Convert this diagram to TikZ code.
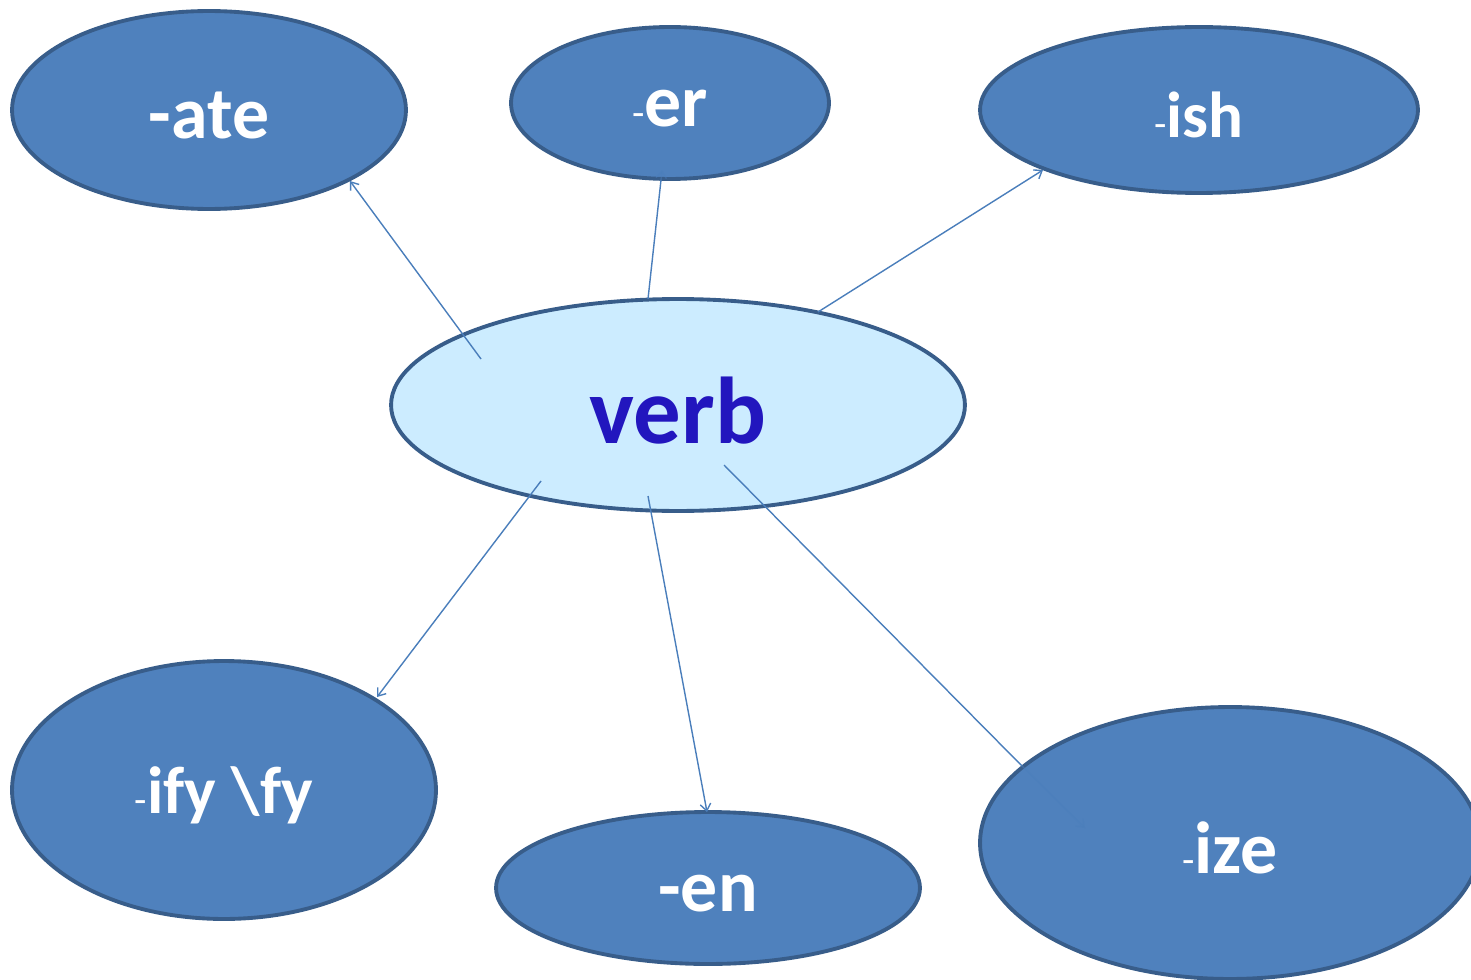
\documentclass[tikz,border=0pt]{standalone}
\usepackage{fontspec}
\setmainfont{Carlito}
\usetikzlibrary{shapes.geometric,arrows.meta}
\definecolor{fillblue}{HTML}{4F81BD}
\definecolor{edgeblue}{HTML}{385D8A}
\definecolor{verbfill}{HTML}{CCECFF}
\definecolor{verbtext}{HTML}{2216BE}
\definecolor{linkblue}{HTML}{4A7EBB}
\newcommand{\smallhy}{{\fontsize{23}{23}\selectfont\mdseries -}}
\newcommand{\lbl}[1]{\raisebox{-3pt}[\height][\depth]{#1}}
\begin{document}
\begin{tikzpicture}[x=0.02cm,y=-0.02cm,
  suffix/.style={ellipse, draw=edgeblue, line width=2.2pt, fill=fillblue,
    text=white, font=\bfseries\fontsize{42}{48}\selectfont, inner sep=0pt},
  verbnode/.style={ellipse, draw=edgeblue, line width=2.2pt, fill=verbfill,
    text=verbtext, font=\bfseries\fontsize{54}{60}\selectfont, inner sep=0pt},
  plainlink/.style={draw=linkblue, line width=0.8pt},
  link/.style={plainlink, -{Straight Barb[length=4pt,width=6pt]}},
  faintlink/.style={link, draw opacity=0.45}]
\useasboundingbox (0,0) rectangle (1471,980);
\clip (0,0) rectangle (1471,980);

\node[verbnode, minimum width=11.48cm, minimum height=4.24cm] (verb) at (678,405) {\lbl{verb}};

\node[suffix, minimum width=7.88cm, minimum height=3.96cm] (ate) at (209,110) {\lbl{-ate}};
\node[suffix, minimum width=6.36cm, minimum height=3.04cm] (er) at (670,103) {\lbl{\smallhy er}};
\node[suffix, minimum width=8.76cm, minimum height=3.32cm, font=\bfseries\fontsize{37}{42}\selectfont] (ish) at (1199,110) {\lbl{\smallhy ish}};
\node[suffix, minimum width=8.48cm, minimum height=5.16cm, font=\bfseries\fontsize{38}{44}\selectfont] (ify) at (224,790) {\lbl{\smallhy ify \textbackslash fy}};
\node[suffix, minimum width=8.48cm, minimum height=3.04cm] (en) at (708,888) {\lbl{-en}};
\node[suffix, minimum width=10.0cm, minimum height=5.44cm] (ize) at (1230,843) {\lbl{\smallhy ize}};

\coordinate (s1) at (481,359);
\coordinate (e1) at (350,181);
\coordinate (s2) at (648,299);
\coordinate (b2) at (661,180);
\coordinate (e2) at (662,170);
\coordinate (s3) at (818,312);
\coordinate (e3) at (1043,170);
\coordinate (s4) at (541,481);
\coordinate (e4) at (377,697);
\coordinate (s5) at (648,496);
\coordinate (e5) at (707,812);
\coordinate (s6) at (724,465);
\coordinate (b6) at (1022,766);
\coordinate (e6) at (1085,828);

\draw[link] (s1) -- (e1);
\draw[plainlink] (s2) -- (b2);
\draw[faintlink] (b2) -- (e2);
\draw[link] (s3) -- (e3);
\draw[link] (s4) -- (e4);
\draw[link] (s5) -- (e5);
\draw[plainlink] (s6) -- (b6);
\draw[faintlink] (b6) -- (e6);
\end{tikzpicture}
\end{document}
